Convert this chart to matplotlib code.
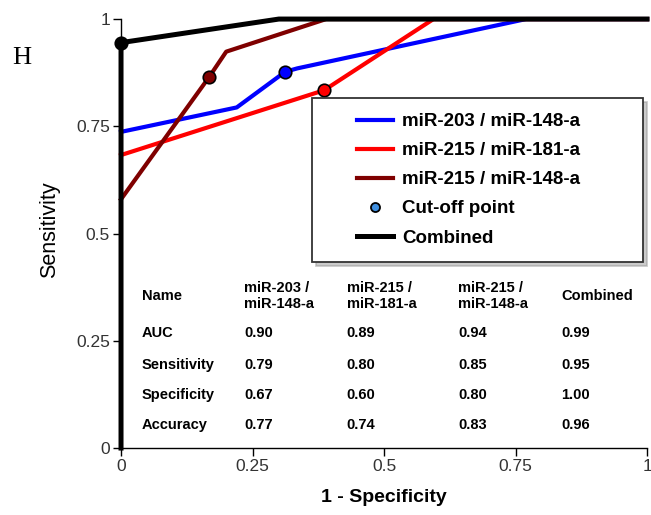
import matplotlib
matplotlib.use("Agg")
import matplotlib.pyplot as plt
from matplotlib.legend_handler import HandlerLine2D

plt.rcParams["font.family"] = ["Liberation Sans", "DejaVu Sans"]

# ROC curves (1 - specificity, sensitivity)
fpr_203_148 = [0, 0.22, 0.312, 0.335, 0.77, 1]
tpr_203_148 = [0.737, 0.794, 0.877, 0.885, 1, 1]
fpr_215_181 = [0, 0.386, 0.594, 1]
tpr_215_181 = [0.683, 0.834, 1, 1]
fpr_215_148 = [0, 0.167, 0.2, 0.39, 1]
tpr_215_148 = [0.58, 0.864, 0.924, 1, 1]
fpr_comb = [0, 0, 0.3, 1]
tpr_comb = [0, 0.945, 1, 1]

# cut-off points
cut_x = [0.312, 0.386, 0.167, 0.0]
cut_y = [0.877, 0.834, 0.864, 0.945]

labels = ["miR-203 / miR-148-a", "miR-215 / miR-181-a", "miR-215 / miR-148-a", "Combined"]
colors = ["#0000ff", "#ff0000", "#7f0000", "#000000"]

# summary table
col_names = ["miR-203 /\nmiR-148-a", "miR-215 /\nmiR-181-a", "miR-215 /\nmiR-148-a", "Combined"]
row_names = ["AUC", "Sensitivity", "Specificity", "Accuracy"]
auc = ["0.90", "0.89", "0.94", "0.99"]
sens = ["0.79", "0.80", "0.85", "0.95"]
spec = ["0.67", "0.60", "0.80", "1.00"]
acc = ["0.77", "0.74", "0.83", "0.96"]

fig = plt.figure(figsize=(6.51, 5.15), dpi=100)
ax = fig.add_axes([0.1859, 0.130, 0.808, 0.833])

curves = [(fpr_203_148, tpr_203_148), (fpr_215_181, tpr_215_181),
          (fpr_215_148, tpr_215_148), (fpr_comb, tpr_comb)]
handles = []
for (fx, ty), c, lab in zip(curves, colors, labels):
    lw = 3.6 if c == "#000000" else 3.0
    h, = ax.plot(fx, ty, color=c, lw=lw, label=lab, clip_on=False,
                 solid_joinstyle="round", zorder=3)
    handles.append(h)

for x, y, c in zip(cut_x, cut_y, colors):
    ax.plot(x, y, "o", ms=9, mfc=c, mec="black", mew=1.2, clip_on=False, zorder=4)

cut_handle, = ax.plot([], [], "o", ms=6.5, mfc="#3f8fe0", mec="black", mew=1.3,
                      label="Cut-off point")

ax.set_xlim(0, 1)
ax.set_ylim(0, 1)
ax.set_xticks([0, 0.25, 0.5, 0.75, 1])
ax.set_xticklabels(["0", "0.25", "0.5", "0.75", "1"])
ax.set_yticks([0, 0.25, 0.5, 0.75, 1])
ax.set_yticklabels(["0", "0.25", "0.5", "0.75", "1"])
ax.tick_params(axis="both", direction="out", length=6, width=1, colors="black",
               labelcolor="#333333", labelsize=12.5, pad=2)
for s in ["top", "right"]:
    ax.spines[s].set_visible(False)
for s in ["left", "bottom"]:
    ax.spines[s].set_linewidth(1)

ax.set_xlabel("1 - Specificity", fontsize=14, fontweight="bold", labelpad=11)
ax.set_ylabel("Sensitivity", fontsize=15.5)
ax.yaxis.set_label_coords(-0.115, 0.508)

# legend handles are inset from the frame edge
pad = HandlerLine2D(xpad=1.6)
leg = ax.legend(handles=handles[:3] + [cut_handle, handles[3]],
                labels=labels[:3] + ["Cut-off point", "Combined"],
                loc="upper left", bbox_to_anchor=(0.363, 0.816, 0.629, 0.0),
                mode="expand", borderaxespad=0, fancybox=False,
                shadow={"ox": 3, "oy": -3, "color": "#999999"},
                prop={"weight": "bold", "size": 13.5},
                handlelength=3.5, handletextpad=0.5, labelspacing=0.64,
                borderpad=0.8, framealpha=1,
                handler_map={h: pad for h in handles + [cut_handle]})
leg.get_frame().set_edgecolor("#333333")
leg.get_frame().set_linewidth(1.3)

# summary table drawn as text in data coordinates
row_y = [0.268, 0.193, 0.124, 0.0545]
col_x = [0.234, 0.429, 0.641, 0.837]
tkw = dict(fontsize=10.5, fontweight="bold", va="center", ha="left")
ax.text(0.04, 0.355, "Name", **tkw)
for cx, name in zip(col_x, col_names):
    ax.text(cx, 0.355, name, linespacing=1.2, **tkw)
for ry, rn, vals in zip(row_y, row_names, [auc, sens, spec, acc]):
    ax.text(0.04, ry, rn, **tkw)
    for cx, v in zip(col_x, vals):
        ax.text(cx, ry, v, **tkw)

fig.text(0.034, 0.888, "H", fontsize=19, family="Liberation Serif", va="center", ha="center")

fig.savefig("out.png", dpi=100)
